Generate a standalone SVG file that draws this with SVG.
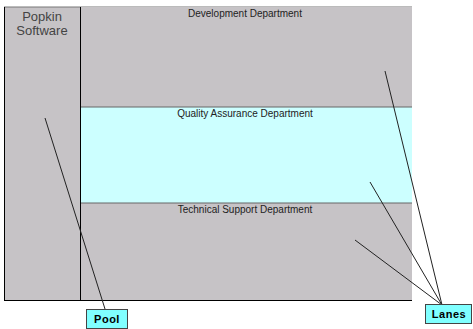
<svg xmlns="http://www.w3.org/2000/svg" width="473" height="329" viewBox="0 0 473 329">
<style>
.lane{fill:#c6c3c6;}
.qa{fill:#ccffff;}
.t{font-family:"Liberation Sans",Arial,sans-serif;font-size:10px;fill:#222;text-anchor:middle;}
.pt{font-family:"Liberation Sans",Arial,sans-serif;font-size:13px;fill:#444;text-anchor:middle;}
.lb{fill:#80ffff;stroke:#444;stroke-width:1;}
.lt{font-family:"Liberation Sans",Arial,sans-serif;font-size:11px;font-weight:bold;fill:#000;text-anchor:middle;letter-spacing:0.5px;}
.c{stroke:#222;stroke-width:1;fill:none;}
</style>
<rect width="473" height="329" fill="#fff"/>
<g id="pool">
<rect class="lane" x="4" y="7" width="408" height="293"/>
<line x1="4" y1="7" x2="412" y2="7" stroke="#777" stroke-width="1"/>
<line x1="4.5" y1="7" x2="4.5" y2="300" stroke="#000"/>
<line x1="4" y1="300.5" x2="412" y2="300.5" stroke="#000"/>
<text class="pt" x="42" y="21">Popkin</text>
<text class="pt" x="42" y="35">Software</text>
</g>
<g id="lane-dev">
<rect class="lane" x="80" y="7" width="332" height="100"/>
<text class="t" x="245" y="17">Development Department</text>
</g>
<g id="lane-qa">
<rect class="qa" x="80" y="107" width="332" height="96"/>
<line x1="80" y1="107" x2="412" y2="107" stroke="#666"/>
<text class="t" x="245" y="117">Quality Assurance Department</text>
</g>
<g id="lane-ts">
<line x1="80" y1="203" x2="412" y2="203" stroke="#666"/>
<text class="t" x="245" y="213">Technical Support Department</text>
</g>
<line x1="80.5" y1="7" x2="80.5" y2="300" stroke="#000"/>
<g id="connectors">
<line class="c" x1="45" y1="118" x2="105" y2="309"/>
<line class="c" x1="385" y1="71" x2="442" y2="305"/>
<line class="c" x1="370" y1="182" x2="442" y2="305"/>
<line class="c" x1="355" y1="240" x2="442" y2="305"/>
</g>
<g id="label-pool">
<rect class="lb" x="86.5" y="309.5" width="41" height="19"/>
<text class="lt" x="107" y="323">Pool</text>
</g>
<g id="label-lanes">
<rect class="lb" x="425.5" y="304.5" width="46" height="19"/>
<text class="lt" x="449" y="318">Lanes</text>
</g>
</svg>
